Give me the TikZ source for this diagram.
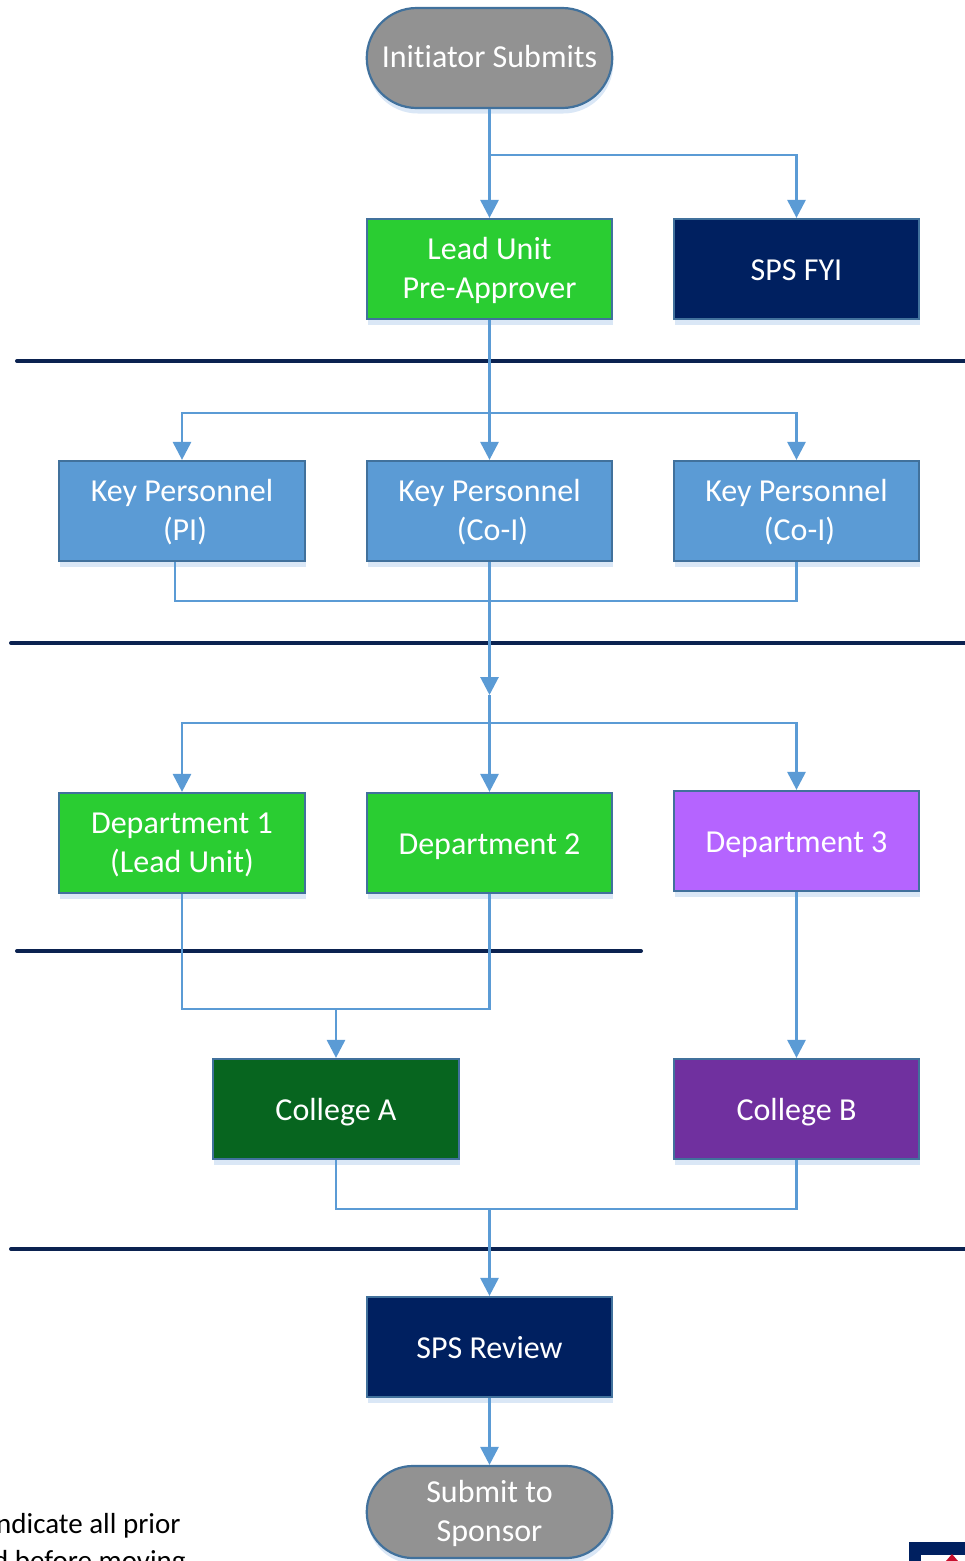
\documentclass[tikz,border=0pt]{standalone}
\usepackage{fontspec}
\setmainfont[Ligatures=NoCommon]{Carlito}
\usetikzlibrary{arrows.meta,shapes.misc,calc,shadows}
\definecolor{edgeblue}{HTML}{5B9BD5}
\definecolor{rimblue}{HTML}{41719C}
\definecolor{shadowblue}{HTML}{DAE7F6}
\definecolor{navyfill}{HTML}{002060}
\definecolor{rulenavy}{HTML}{0B2250}
\definecolor{greyfill}{HTML}{929292}
\definecolor{brightgreen}{HTML}{2ACD32}
\definecolor{darkgreen}{HTML}{07651F}
\definecolor{lilac}{HTML}{B564FF}
\definecolor{deeppurple}{HTML}{70309F}
\definecolor{logored}{HTML}{C8102E}
\newcommand{\tp}{\rule{0pt}{27pt}}
\newcommand{\tq}{\rule{0pt}{30pt}}
\newcommand{\bt}{\rule[-8pt]{0pt}{8pt}}
\tikzset{
  x=1pt,y=-1pt,
  base/.style={draw=rimblue,line width=2.2pt,minimum width=245.5pt,minimum height=100pt,
    inner sep=0pt,text=white,align=center,font=\fontsize{32pt}{39pt}\selectfont,
    drop shadow={shadow xshift=1pt,shadow yshift=-5.5pt,fill=shadowblue,opacity=1}},
  box/.style={base,rectangle},
  pill/.style={base,rounded rectangle,rounded rectangle arc length=180},
  link/.style={draw=edgeblue,line width=2.9pt},
  arrowlink/.style={link,-{Triangle[length=18pt,width=18pt]}},
  divider/.style={draw=rulenavy,line width=4pt,line cap=round},
  note/.style={anchor=base west,inner sep=0pt,text=black,font=\fontsize{29pt}{36pt}\selectfont},
}
\begin{document}
\begin{tikzpicture}
\useasboundingbox (0,0) rectangle (965,1561);
\clip (0,0) rectangle (965,1561);
% nodes
\node[pill,fill=greyfill] (init) at (489.5,58) {\rule{0pt}{27pt}\bt Initiator Submits};
\node[box,fill=brightgreen] (lead) at (489.5,269) {\tp Lead Unit\\Pre-Approver\bt};
\node[box,fill=navyfill] (fyi) at (796.5,269) {\tq\bt SPS FYI};
\node[box,fill=edgeblue] (kp1) at (182,511) {\tp Key Personnel\\\hspace*{6pt}(PI)\bt};
\node[box,fill=edgeblue] (kp2) at (489.5,511) {\tp Key Personnel\\\hspace*{6pt}(Co-I)\bt};
\node[box,fill=edgeblue] (kp3) at (796.5,511) {\tp Key Personnel\\\hspace*{6pt}(Co-I)\bt};
\node[box,fill=brightgreen] (d1) at (182,843) {\tp Department 1\\(Lead Unit)\bt};
\node[box,fill=brightgreen] (d2) at (489.5,843) {\tq\bt Department 2};
\node[box,fill=lilac] (d3) at (796.5,841) {\tq\bt Department 3};
\node[box,fill=darkgreen] (ca) at (336,1109) {\tq\bt College A};
\node[box,fill=deeppurple] (cb) at (796.5,1109) {\tq\bt College B};
\node[box,fill=navyfill] (rev) at (489.5,1347) {\tq\bt SPS Review};
\node[pill,fill=greyfill,minimum height=92pt] (sub) at (489.5,1512) {\tp Submit to\\Sponsor\bt};
% junctions
\coordinate (j1) at (489.5,155);
\coordinate (j2) at (489.5,413);
\coordinate (j3) at (489.5,601);
\coordinate (j4) at (489.5,695);
\coordinate (j5) at (489.5,723);
\coordinate (j6) at (336,1009);
\coordinate (j7) at (489.5,1209);
% dividers
\coordinate (r1a) at (17,361); \coordinate (r1b) at (970,361);
\coordinate (r2a) at (11,643); \coordinate (r2b) at (970,643);
\coordinate (r3a) at (17,951); \coordinate (r3b) at (641,951);
\coordinate (r4a) at (11,1249); \coordinate (r4b) at (970,1249);
\draw[divider] (r1a) -- (r1b);
\draw[divider] (r2a) -- (r2b);
\draw[divider] (r3a) -- (r3b);
\draw[divider] (r4a) -- (r4b);
% connectors
\draw[arrowlink] (init.south) -- (lead.north);
\draw[arrowlink] (j1) -| (fyi.north);
\draw[arrowlink] (lead.south) -- (kp2.north);
\draw[arrowlink] (j2) -| (kp1.north);
\draw[arrowlink] (j2) -| (kp3.north);
\draw[link] ($(kp1.south)+(-7,0)$) |- (j3);
\draw[link] (kp3.south) |- (j3);
\draw[arrowlink] (kp2.south) -- (j4);
\draw[arrowlink] (j4) -- (d2.north);
\draw[arrowlink] (j5) -| (d1.north);
\draw[arrowlink] (j5) -| (d3.north);
\draw[link] (d1.south) |- (j6);
\draw[link] (d2.south) |- (j6);
\draw[arrowlink] (j6) -- (ca.north);
\draw[arrowlink] (d3.south) -- (cb.north);
\draw[link] (ca.south) |- (j7);
\draw[link] (cb.south) |- (j7);
\draw[arrowlink] (j7) -- (rev.north);
\draw[arrowlink] (rev.south) -- (sub.north);
% clipped note
\node[note] (n1) at (-4,1533) {ndicate all prior};
\node[note] (n2) at (-7,1570) {d before moving};
% clipped logo
\node[fill=navyfill,draw=none,minimum width=60pt,minimum height=30pt,anchor=north west,inner sep=0pt] (logo) at (909,1542) {};
\node[fill=white,draw=none,minimum width=50pt,minimum height=20pt,anchor=north west,inner sep=0pt] (logoin) at (921,1555) {};
\fill[logored] (952,1554) -- (946,1561) -- (958,1561) -- cycle;
\end{tikzpicture}
\end{document}
